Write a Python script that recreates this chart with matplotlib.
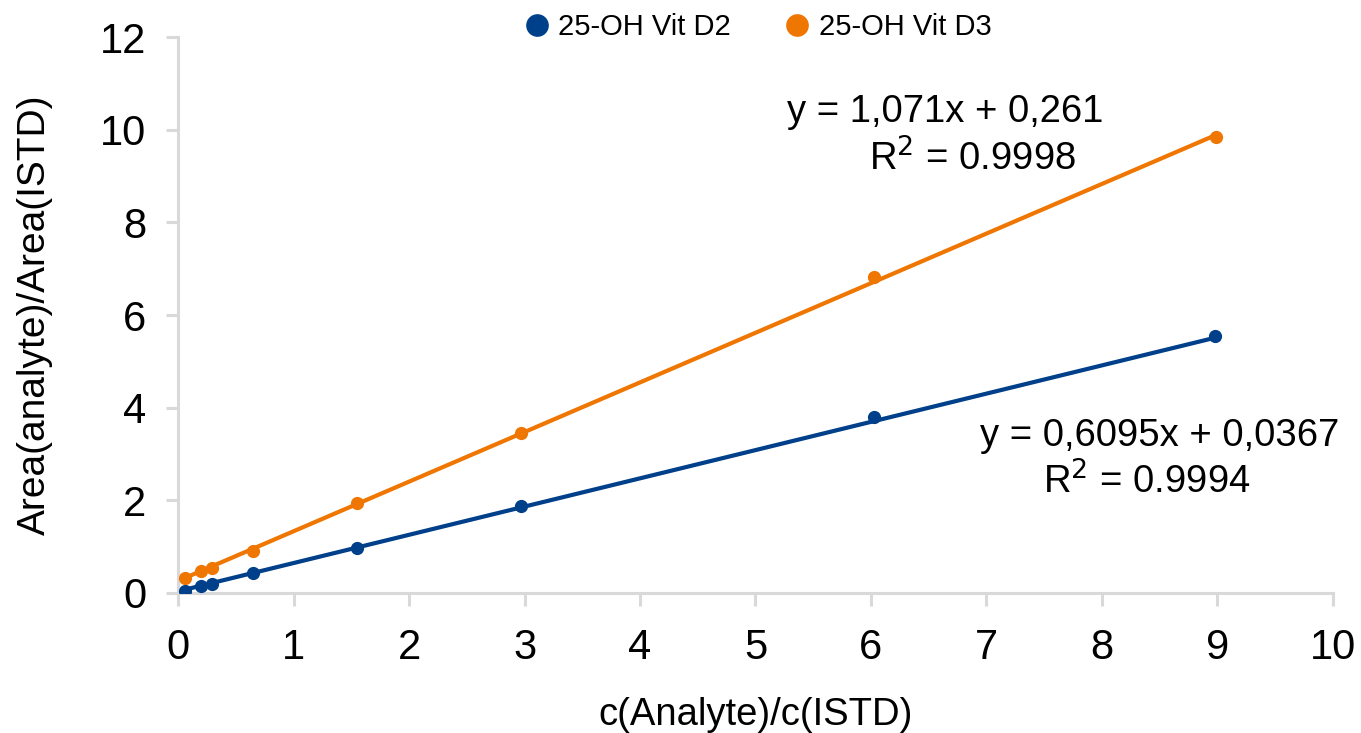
import matplotlib
matplotlib.use("Agg")
import matplotlib.pyplot as plt
import numpy as np

plt.rcParams['font.family'] = ['Liberation Sans', 'DejaVu Sans']

# Data
d2_x = [0.06, 0.20, 0.29, 0.65, 1.55, 2.97, 6.03, 8.98]
d2_y = [0.04, 0.15, 0.20, 0.43, 0.97, 1.88, 3.80, 5.55]
d3_x = [0.06, 0.20, 0.29, 0.65, 1.55, 2.97, 6.03, 8.99]
d3_y = [0.32, 0.47, 0.54, 0.91, 1.94, 3.45, 6.83, 9.85]
d2_fit = (0.6095, 0.0367)
d3_fit = (1.071, 0.261)
labels = ["25-OH Vit D2", "25-OH Vit D3"]
eq_d2 = ["y = 0,6095x + 0,0367", "R$^2$ = 0.9994"]
eq_d3 = ["y = 1,071x + 0,261", "R$^2$ = 0.9998"]

blue = "#00408a"
orange = "#ef7600"
gray = "#d9d9d9"

fig = plt.figure(figsize=(13.61, 7.33), dpi=100)
ax = fig.add_axes([0.1308, 0.191, 0.8486, 0.7585])

for xs, ys, fit, col, lab in [(d2_x, d2_y, d2_fit, blue, labels[0]),
                              (d3_x, d3_y, d3_fit, orange, labels[1])]:
    xl = np.array([0.0, max(xs)])
    ax.plot(xl, fit[0] * xl + fit[1], color=col, lw=3.0, solid_capstyle='butt', zorder=2)
    ax.plot(xs, ys, 'o', color=col, ms=8.5, zorder=3, label=lab)

ax.set_xlim(0, 10)
ax.set_ylim(0, 12)
ax.set_xticks(range(0, 11))
ax.set_yticks(range(0, 13, 2))
for s in ['top', 'right']:
    ax.spines[s].set_visible(False)
for s in ['left', 'bottom']:
    ax.spines[s].set_color(gray)
    ax.spines[s].set_linewidth(2.2)
ax.tick_params(axis='both', colors=gray, width=2.2, length=9, labelcolor='black',
               labelsize=30)
ax.tick_params(axis='x', pad=16)
ax.tick_params(axis='y', pad=14)

ax.set_xlabel("c(Analyte)/c(ISTD)", fontsize=27.5, labelpad=21)
ax.set_ylabel("Area(analyte)/Area(ISTD)", fontsize=28, labelpad=34)

ax.text(6.64, 10.38, eq_d3[0], fontsize=27.5, ha='center', va='center')
ax.text(6.88, 9.37, eq_d3[1], fontsize=27.5, ha='center', va='center')
ax.text(8.50, 3.38, eq_d2[0], fontsize=27.5, ha='center', va='center')
ax.text(8.39, 2.40, eq_d2[1], fontsize=27.5, ha='center', va='center')

leg = fig.legend(loc='center', bbox_to_anchor=(0.556, 0.963), ncol=2, frameon=False,
                 fontsize=21, handletextpad=0.25, columnspacing=1.75, markerscale=1.8,
                 handlelength=1.0)

fig.savefig("out.png", dpi=100)
